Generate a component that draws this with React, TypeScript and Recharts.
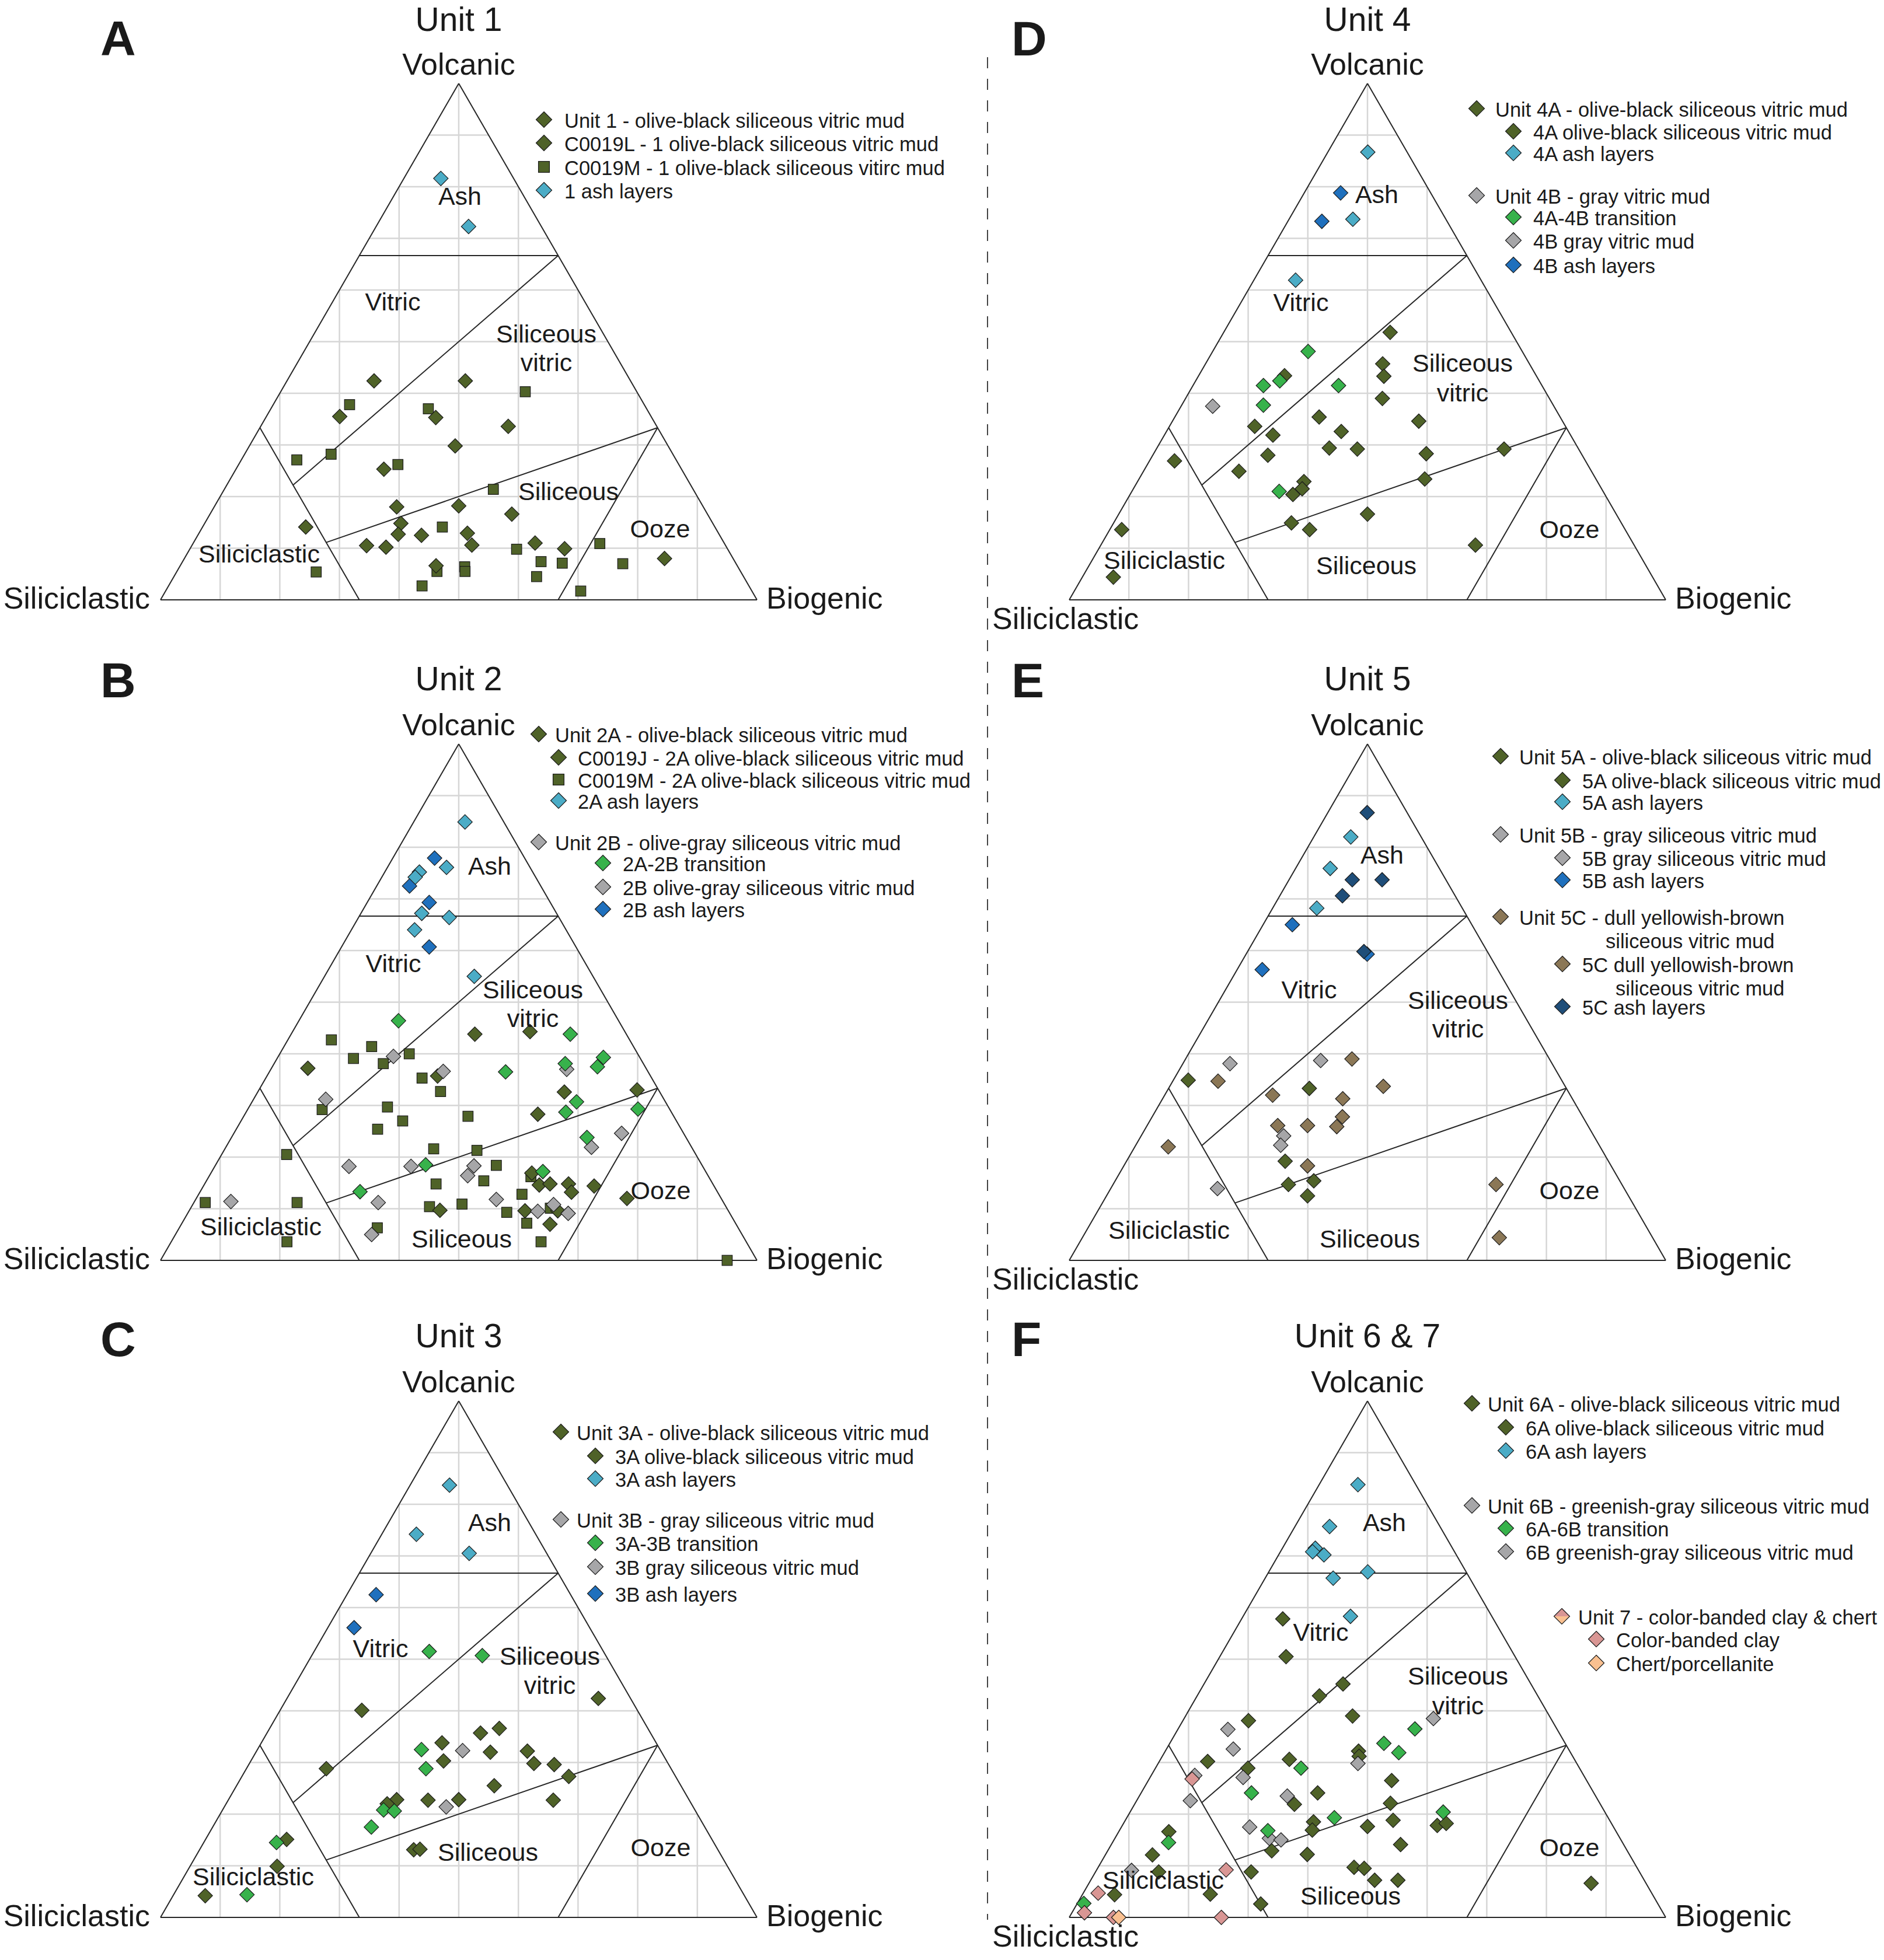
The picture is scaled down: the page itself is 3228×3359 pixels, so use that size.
import React from "react";
import { ScatterChart, Scatter, XAxis, YAxis, ReferenceLine } from "recharts";

// every sample is [volcanic %, biogenic %]; siliciclastic is the rest
type VB = [number, number];

const OLIVE = "#4f6228";
const ASH = "#4bacc6";
const BLUE = "#1f70bd";
const NAVY = "#1f4e79";
const GREEN = "#37b24b";
const GRAY = "#a6a6a8";
const BROWN = "#8b7756";
const PINK = "#d99694";
const ORANGE = "#fac090";

// ---- Unit 1
const unit1Diamonds: VB[] = [
  [42.4, 14.6], [42.4, 29.9], [35.5, 12.3], [35.3, 28.5], [33.6, 41.5], [29.8, 34.5], [25.3, 24.8],
  [18, 30.6], [18.2, 40.9], [16.6, 50.6], [14.8, 32.9], [14.1, 17.3], [12.7, 33.5], [12.5, 37.5],
  [12.9, 45], [10.6, 46.9], [10.5, 29.3], [10.2, 32.7], [11, 57.3], [9.9, 62.8], [6.6, 42.9], [8, 80.5],
];
const unit1Squares: VB[] = [
  [40.3, 41], [37.8, 12.8], [37, 26.4], [28.2, 14.5], [27.1, 9.3], [26.2, 26.7], [21.4, 45.1],
  [14.1, 40.2], [9.8, 54.8], [7.4, 60.1], [7.1, 63.8], [10.9, 68.2], [7, 74], [5.4, 23.4],
  [5.5, 43.6], [6.4, 47.8], [5.5, 48.3], [4.5, 60.8], [2.7, 42.5], [1.7, 69.6],
];
const unit1Ash: VB[] = [[81.6, 6.2], [72.3, 15.5]];

// ---- Unit 2
const unit2aAsh: VB[] = [
  [84.9, 8.6], [76.1, 9.9], [75.2, 5.8], [74.2, 5.6], [67.2, 10.2], [66.4, 15.2], [64, 10.6], [55, 25.1],
];
const unit2bAsh: VB[] = [[77.9, 7], [72.5, 5.5], [69.3, 10.4], [60.7, 14.7]];
const unit2Transition: VB[] = [
  [46.4, 16.7], [43.8, 46.8], [39.3, 54.6], [38.1, 48.8], [37.5, 54.5], [36.5, 39.6], [30.7, 54.4],
  [28.7, 53.6], [29.3, 65.4], [23.8, 59.6], [18.5, 35.2], [17.2, 55.5], [13.3, 26.8],
];
const unit2bGray: VB[] = [
  [39.5, 19.3], [36.6, 29.1], [37, 49.6], [31.2, 12.1], [24.6, 65], [21.9, 61.3], [18.2, 22.5],
  [18.2, 32.9], [18.3, 43.4], [16.4, 43.3], [11.4, 6.1], [11.2, 30.9], [11.8, 50.4], [9.5, 58.5],
  [10.8, 60.5], [9.1, 63.8], [5, 32.9],
];
const unit2aDiamonds: VB[] = [
  [43.8, 30.8], [44.3, 39.8], [37.2, 6.1], [35.7, 28.6], [32.6, 51.4], [33, 63.4], [28.3, 49.1],
  [16.9, 53.8], [14.6, 56.2], [14.8, 57.9], [14.8, 61], [13.2, 62.3], [14.4, 65.5], [12, 72.2],
  [9.7, 42], [9.6, 56.3], [9.6, 61.8], [7, 61.8],
];
const unit2aSquares: VB[] = [
  [42.7, 7.3], [41.4, 14.7], [39.1, 12.8], [38.1, 18.3], [40, 21.7], [35.3, 26.2], [32.7, 30.6],
  [29.2, 12.5], [29.7, 23.2], [27.9, 37.6], [27, 27.1], [25.4, 23.7], [21.6, 35], [21.3, 42.4],
  [20.5, 10.9], [18.4, 47.1], [15.4, 46.5], [14.8, 38.8], [16.2, 54], [12.8, 54.2], [11.2, 1.9],
  [11.2, 17.3], [10.4, 39.9], [10.9, 45.1], [9.3, 53.4], [10.1, 60.3], [7.2, 57.8], [6.3, 33.2],
  [3.6, 19.4], [3.6, 62], [0, 95],
];

// ---- Unit 3
const unit3aAsh: VB[] = [[83.7, 6.6], [74.2, 5.8], [70.5, 16.5]];
const unit3bAsh: VB[] = [[62.5, 4.9], [56.1, 4.4]];
const unit3Transition: VB[] = [
  [51.5, 19.3], [50.7, 28.6], [32.5, 27.5], [28.8, 30.1], [20.8, 27], [20.6, 28.9], [17.5, 26.6],
  [14.5, 12.2], [4.4, 12.3],
];
const unit3bGray: VB[] = [[32.3, 34.5], [21.4, 37.2]];
const unit3aOlive: VB[] = [
  [42.4, 52.2], [40.1, 13.7], [36.6, 38.5], [35.7, 35.8], [33.8, 30.3], [32, 39.3], [32.2, 45.4],
  [30.3, 32.3], [29.8, 47.7], [29.6, 51.2], [27.3, 54.8], [28.8, 13.4], [25.5, 43.2], [22.8, 28.2],
  [22, 27], [22.7, 33.5], [22.8, 38.6], [22.7, 54.5], [15.1, 13.6], [13.1, 35.9], [13.2, 36.9],
  [9.9, 14.6], [4.2, 5.4],
];

// ---- Unit 4
const unit4aAsh: VB[] = [[86.7, 6.7], [73.7, 10.7], [61.9, 7]];
const unit4bAsh: VB[] = [[78.8, 6.1], [73.3, 5.7]];
const unit4Transition: VB[] = [[48.1, 16], [42.4, 14.1], [41.5, 11.8], [41.5, 24.4], [37.7, 13.7], [21, 24.7]];
const unit4bGray: VB[] = [[37.5, 5.3]];
const unit4aOlive: VB[] = [
  [51.8, 27.9], [45.7, 29.7], [43.3, 31.1], [43.4, 14.4], [39, 33], [35.4, 24.2], [34.6, 41.3],
  [33.6, 14.3], [31.9, 18.2], [32.6, 29.3], [29.4, 28.9], [29.2, 33.7], [28.3, 45.7], [28, 19.3],
  [29.2, 58.3], [26.9, 4.2], [24.9, 16], [22.9, 27.9], [21.5, 28.3], [20.4, 27.3], [23.4, 47.9],
  [16.6, 41.7], [14.9, 29.8], [13.6, 33.5], [13.6, 2], [10.6, 62.8], [4.4, 5.2],
];

// ---- Unit 5
const unit5aAsh: VB[] = [[82, 6.2], [75.9, 5.8], [68.2, 7.4]];
const unit5bAsh: VB[] = [[65, 4.9], [56.3, 4.2], [59.3, 20.3]];
const unit5cAsh: VB[] = [[86.7, 6.6], [73.7, 10.6], [73.7, 15.6], [70.6, 10.5], [59.8, 19.5]];
const unit5aOlive: VB[] = [[34.9, 2.5], [33.3, 23.6], [19.2, 26.6], [14.7, 29.4], [15.4, 33.3], [12.5, 33.7]];
const unit5bGray: VB[] = [[38.1, 7.9], [38.7, 22.8], [24.1, 23.9], [22.3, 24.3], [13.9, 17.9]];
const unit5cBrown: VB[] = [
  [39, 27.9], [34.7, 7.6], [33.7, 35.8], [32, 18.1], [31.3, 30.2], [27.8, 31.9], [25.9, 31.9],
  [26.1, 21.9], [26.1, 26.9], [22, 5.6], [18.3, 30.8], [14.7, 64.2], [4.4, 69.9],
];

// ---- Unit 6 & 7
const unit6aAsh: VB[] = [
  [83.8, 6.5], [75.7, 5.8], [71.5, 5.5], [70.8, 5.4], [70.2, 7.6], [66.9, 16.6], [65.7, 11.4], [58.3, 18],
];
const unit6aOlive: VB[] = [
  [57.8, 6.9], [50.5, 11.1], [45.2, 23.3], [42.9, 20.5], [39, 28], [38.1, 11], [32.2, 32.4], [31.2, 33],
  [30.6, 21.6], [30.2, 8.1], [28.9, 15.5], [26.5, 40.8], [24.1, 29.6], [21.9, 26.8], [22.1, 42.8],
  [18.5, 31.7], [16.9, 32.3], [17.6, 41.2], [18.8, 44.9], [17.8, 52.8], [18.2, 54.1], [16.6, 8.4],
  [14.1, 48.5], [12.9, 27.5], [12.2, 33.8], [12.1, 7.9], [8.8, 10.6], [8.8, 26.1], [9.7, 42.9],
  [9.5, 44.7], [7.2, 47.6], [7.2, 51.5], [4.4, 5.4], [4.5, 21.4], [2.6, 30.8], [6.6, 84.2],
];
const unit6Transition: VB[] = [
  [36.5, 39.7], [33.7, 35.9], [31.9, 39.3], [28.9, 24.4], [24.1, 18.5], [19.3, 34.8], [20.4, 52.5],
  [16.8, 24.9], [14.5, 9.4], [2.7, 1.1],
];
const unit6bGray: VB[] = [
  [38.5, 41.8], [36.4, 8.4], [32.6, 11.2], [29.8, 33.5], [27.1, 15.6], [27.5, 7.3], [23.5, 24.8],
  [22.6, 9], [17.5, 21.5], [15.3, 25.9], [15, 28], [9.1, 5.9],
];
const unit7Clay: VB[] = [[26.8, 7.2], [9.2, 21.7], [4.7, 2.5], [0.9, 2.1], [0, 7.4], [0, 25.5]];
const unit7Chert: VB[] = [[0, 8.3]];

// ternary -> cartesian (x along base 0..100, y = volcanic 0..100)
const toXY = ([v, b]: VB) => ({ x: b + v / 2, y: v });

const TW = 1022;
const TH = 885;
const PAD = 30;
const FONT = "'Liberation Sans', Arial, sans-serif";
const INK = "#1a1a1a";

// grid inside the triangle, every 10 %
const GRID: { x: number; y: number }[][] = [];
for (let k = 10; k < 100; k += 10) {
  GRID.push([{ x: k, y: 0 }, { x: k, y: k <= 50 ? 2 * k : 2 * (100 - k) }]);
  GRID.push([{ x: k / 2, y: k }, { x: 100 - k / 2, y: k }]);
}

const T = 100 / 3;
const BOUNDS: VB[][] = [
  [[0, 0], [0, 100]],
  [[0, 100], [100, 0]],
  [[0, 0], [100, 0]],
  [[2 * T, 0], [2 * T, T]], // ash
  [[0, T], [T, 0]], // siliciclastic
  [[0, 2 * T], [T, 2 * T]], // ooze
  [[200 / 9, 100 / 9], [2 * T, T]], // vitric / siliceous vitric
  [[100 / 9, 200 / 9], [T, 2 * T]], // siliceous vitric / siliceous
];

type Shape = "diamond" | "square" | "split";
type Series = { data: VB[]; fill: string; shape: Shape };

function Mark({ cx, cy, fill, shape, size = 12 }: { cx: number; cy: number; fill: string; shape: Shape; size?: number }) {
  if (shape === "square") {
    const h = size * 0.7;
    return <rect x={cx - h} y={cy - h} width={2 * h} height={2 * h} fill={fill} stroke="#1a1a1a" strokeWidth={1.2} />;
  }
  const d = `M${cx},${cy - size}L${cx + size},${cy}L${cx},${cy + size}L${cx - size},${cy}Z`;
  if (shape === "split") {
    return (
      <g>
        <path d={`M${cx - size},${cy}L${cx},${cy - size}L${cx + size},${cy}Z`} fill={PINK} />
        <path d={`M${cx - size},${cy}L${cx},${cy + size}L${cx + size},${cy}Z`} fill={ORANGE} />
        <path d={d} fill="none" stroke="#1a1a1a" strokeWidth={1.2} />
      </g>
    );
  }
  return <path d={d} fill={fill} stroke="#1a1a1a" strokeWidth={1.2} />;
}

function Ternary({ left, base, series }: { left: number; base: number; series: Series[] }) {
  return (
    <div style={{ position: "absolute", left: left - PAD, top: base - TH - PAD }}>
      <ScatterChart width={TW + 2 * PAD} height={TH + 2 * PAD} margin={{ top: PAD, right: PAD, bottom: PAD, left: PAD }}>
        <XAxis type="number" dataKey="x" domain={[0, 100]} hide />
        <YAxis type="number" dataKey="y" domain={[0, 100]} hide />
        {GRID.map((s, i) => (
          <ReferenceLine key={"g" + i} segment={s} stroke="#d6d6d6" strokeWidth={2.5} ifOverflow="visible" />
        ))}
        {BOUNDS.map((s, i) => (
          <ReferenceLine key={"b" + i} segment={[toXY(s[0]), toXY(s[1])]} stroke="#262626" strokeWidth={2} ifOverflow="visible" />
        ))}
        {series.map((s, i) => (
          <Scatter
            key={i}
            data={s.data.map(toXY)}
            isAnimationActive={false}
            shape={(p: any) => <Mark cx={p.cx} cy={p.cy} fill={s.fill} shape={s.shape} size={12.5} />}
          />
        ))}
      </ScatterChart>
    </div>
  );
}

type LegendRow = { text: string; y: number; mx?: number; tx: number; fill?: string; shape?: Shape };
type PanelDef = {
  letter: string;
  title: string;
  left: number;
  base: number;
  letterX: number;
  letterY: number;
  rightSide: boolean;
  series: Series[];
  regions: [string, number, number][];
  legend: LegendRow[];
};

const panels: PanelDef[] = [
  {
    letter: "A", title: "Unit 1", left: 275, base: 1028, letterX: 172, letterY: 95, rightSide: false,
    series: [
      { data: unit1Squares, fill: OLIVE, shape: "square" },
      { data: unit1Diamonds, fill: OLIVE, shape: "diamond" },
      { data: unit1Ash, fill: ASH, shape: "diamond" },
    ],
    regions: [["Ash", 788, 336], ["Vitric", 673, 517], ["Siliceous", 936, 572], ["vitric", 936, 621],
      ["Siliceous", 974, 842], ["Ooze", 1131, 906], ["Siliciclastic", 444, 949]],
    legend: [
      { text: "Unit 1 - olive-black siliceous vitric mud", y: 207, mx: 932, tx: 967, fill: OLIVE, shape: "diamond" },
      { text: "C0019L - 1 olive-black siliceous vitric mud", y: 247, mx: 932, tx: 967, fill: OLIVE, shape: "diamond" },
      { text: "C0019M - 1 olive-black siliceous vitirc mud", y: 288, mx: 932, tx: 967, fill: OLIVE, shape: "square" },
      { text: "1 ash layers", y: 328, mx: 932, tx: 967, fill: ASH, shape: "diamond" },
    ],
  },
  {
    letter: "B", title: "Unit 2", left: 275, base: 2160, letterX: 172, letterY: 1195, rightSide: false,
    series: [
      { data: unit2aSquares, fill: OLIVE, shape: "square" },
      { data: unit2aDiamonds, fill: OLIVE, shape: "diamond" },
      { data: unit2bGray, fill: GRAY, shape: "diamond" },
      { data: unit2Transition, fill: GREEN, shape: "diamond" },
      { data: unit2aAsh, fill: ASH, shape: "diamond" },
      { data: unit2bAsh, fill: BLUE, shape: "diamond" },
    ],
    regions: [["Ash", 839, 1484], ["Vitric", 674, 1651], ["Siliceous", 913, 1696], ["vitric", 913, 1745],
      ["Siliceous", 791, 2123], ["Ooze", 1132, 2040], ["Siliciclastic", 447, 2102]],
    legend: [
      { text: "Unit 2A - olive-black siliceous vitric mud", y: 1260, mx: 923, tx: 951, fill: OLIVE, shape: "diamond" },
      { text: "C0019J - 2A olive-black siliceous vitric mud", y: 1300, mx: 957, tx: 990, fill: OLIVE, shape: "diamond" },
      { text: "C0019M - 2A olive-black siliceous vitric mud", y: 1338, mx: 957, tx: 990, fill: OLIVE, shape: "square" },
      { text: "2A ash layers", y: 1374, mx: 957, tx: 990, fill: ASH, shape: "diamond" },
      { text: "Unit 2B - olive-gray siliceous vitric mud", y: 1445, mx: 923, tx: 951, fill: GRAY, shape: "diamond" },
      { text: "2A-2B transition", y: 1481, mx: 1033, tx: 1067, fill: GREEN, shape: "diamond" },
      { text: "2B olive-gray siliceous vitric mud", y: 1522, mx: 1033, tx: 1067, fill: GRAY, shape: "diamond" },
      { text: "2B ash layers", y: 1560, mx: 1033, tx: 1067, fill: BLUE, shape: "diamond" },
    ],
  },
  {
    letter: "C", title: "Unit 3", left: 275, base: 3286, letterX: 172, letterY: 2324, rightSide: false,
    series: [
      { data: unit3aOlive, fill: OLIVE, shape: "diamond" },
      { data: unit3bGray, fill: GRAY, shape: "diamond" },
      { data: unit3Transition, fill: GREEN, shape: "diamond" },
      { data: unit3aAsh, fill: ASH, shape: "diamond" },
      { data: unit3bAsh, fill: BLUE, shape: "diamond" },
    ],
    regions: [["Ash", 839, 2609], ["Vitric", 652, 2825], ["Siliceous", 942, 2838], ["vitric", 942, 2888],
      ["Siliceous", 836, 3174], ["Ooze", 1132, 3166], ["Siliciclastic", 434, 3216]],
    legend: [
      { text: "Unit 3A - olive-black siliceous vitric mud", y: 2456, mx: 961, tx: 988, fill: OLIVE, shape: "diamond" },
      { text: "3A olive-black siliceous vitric mud", y: 2497, mx: 1020, tx: 1054, fill: OLIVE, shape: "diamond" },
      { text: "3A ash layers", y: 2536, mx: 1020, tx: 1054, fill: ASH, shape: "diamond" },
      { text: "Unit 3B - gray siliceous vitric mud", y: 2606, mx: 961, tx: 988, fill: GRAY, shape: "diamond" },
      { text: "3A-3B transition", y: 2646, mx: 1020, tx: 1054, fill: GREEN, shape: "diamond" },
      { text: "3B gray siliceous vitric mud", y: 2687, mx: 1020, tx: 1054, fill: GRAY, shape: "diamond" },
      { text: "3B ash layers", y: 2733, mx: 1020, tx: 1054, fill: BLUE, shape: "diamond" },
    ],
  },
  {
    letter: "D", title: "Unit 4", left: 1832, base: 1028, letterX: 1733, letterY: 95, rightSide: true,
    series: [
      { data: unit4aOlive, fill: OLIVE, shape: "diamond" },
      { data: unit4bGray, fill: GRAY, shape: "diamond" },
      { data: unit4Transition, fill: GREEN, shape: "diamond" },
      { data: unit4aAsh, fill: ASH, shape: "diamond" },
      { data: unit4bAsh, fill: BLUE, shape: "diamond" },
    ],
    regions: [["Ash", 2359, 333], ["Vitric", 2229, 518], ["Siliceous", 2506, 622], ["vitric", 2506, 673],
      ["Siliceous", 2341, 969], ["Ooze", 2689, 907], ["Siliciclastic", 1995, 960]],
    legend: [
      { text: "Unit 4A - olive-black siliceous vitric mud", y: 188, mx: 2530, tx: 2562, fill: OLIVE, shape: "diamond" },
      { text: "4A olive-black siliceous vitric mud", y: 227, mx: 2593, tx: 2627, fill: OLIVE, shape: "diamond" },
      { text: "4A ash layers", y: 264, mx: 2593, tx: 2627, fill: ASH, shape: "diamond" },
      { text: "Unit 4B - gray vitric mud", y: 337, mx: 2530, tx: 2562, fill: GRAY, shape: "diamond" },
      { text: "4A-4B transition", y: 374, mx: 2593, tx: 2627, fill: GREEN, shape: "diamond" },
      { text: "4B gray vitric mud", y: 414, mx: 2593, tx: 2627, fill: GRAY, shape: "diamond" },
      { text: "4B ash layers", y: 456, mx: 2593, tx: 2627, fill: BLUE, shape: "diamond" },
    ],
  },
  {
    letter: "E", title: "Unit 5", left: 1832, base: 2160, letterX: 1733, letterY: 1195, rightSide: true,
    series: [
      { data: unit5cBrown, fill: BROWN, shape: "diamond" },
      { data: unit5bGray, fill: GRAY, shape: "diamond" },
      { data: unit5aOlive, fill: OLIVE, shape: "diamond" },
      { data: unit5aAsh, fill: ASH, shape: "diamond" },
      { data: unit5bAsh, fill: BLUE, shape: "diamond" },
      { data: unit5cAsh, fill: NAVY, shape: "diamond" },
    ],
    regions: [["Ash", 2368, 1465], ["Vitric", 2243, 1696], ["Siliceous", 2498, 1714], ["vitric", 2498, 1763],
      ["Siliceous", 2347, 2123], ["Ooze", 2689, 2040], ["Siliciclastic", 2003, 2108]],
    legend: [
      { text: "Unit 5A - olive-black siliceous vitric mud", y: 1298, mx: 2571, tx: 2603, fill: OLIVE, shape: "diamond" },
      { text: "5A olive-black siliceous vitric mud", y: 1339, mx: 2677, tx: 2711, fill: OLIVE, shape: "diamond" },
      { text: "5A ash layers", y: 1376, mx: 2677, tx: 2711, fill: ASH, shape: "diamond" },
      { text: "Unit 5B - gray siliceous vitric mud", y: 1432, mx: 2571, tx: 2603, fill: GRAY, shape: "diamond" },
      { text: "5B gray siliceous vitric mud", y: 1472, mx: 2677, tx: 2711, fill: GRAY, shape: "diamond" },
      { text: "5B ash layers", y: 1510, mx: 2677, tx: 2711, fill: BLUE, shape: "diamond" },
      { text: "Unit 5C - dull yellowish-brown", y: 1573, mx: 2571, tx: 2603, fill: BROWN, shape: "diamond" },
      { text: "siliceous vitric mud", y: 1613, tx: 2751 },
      { text: "5C dull yellowish-brown", y: 1654, mx: 2677, tx: 2711, fill: BROWN, shape: "diamond" },
      { text: "siliceous vitric mud", y: 1694, tx: 2768 },
      { text: "5C ash layers", y: 1727, mx: 2677, tx: 2711, fill: NAVY, shape: "diamond" },
    ],
  },
  {
    letter: "F", title: "Unit 6 & 7", left: 1832, base: 3286, letterX: 1733, letterY: 2324, rightSide: true,
    series: [
      { data: unit6aOlive, fill: OLIVE, shape: "diamond" },
      { data: unit6bGray, fill: GRAY, shape: "diamond" },
      { data: unit6Transition, fill: GREEN, shape: "diamond" },
      { data: unit6aAsh, fill: ASH, shape: "diamond" },
      { data: unit7Clay, fill: PINK, shape: "diamond" },
      { data: unit7Chert, fill: ORANGE, shape: "diamond" },
    ],
    regions: [["Ash", 2372, 2609], ["Vitric", 2263, 2797], ["Siliceous", 2498, 2872], ["vitric", 2498, 2923],
      ["Siliceous", 2314, 3249], ["Ooze", 2689, 3166], ["Siliciclastic", 1993, 3222]],
    legend: [
      { text: "Unit 6A - olive-black siliceous vitric mud", y: 2407, mx: 2522, tx: 2549, fill: OLIVE, shape: "diamond" },
      { text: "6A olive-black siliceous vitric mud", y: 2448, mx: 2580, tx: 2614, fill: OLIVE, shape: "diamond" },
      { text: "6A ash layers", y: 2488, mx: 2580, tx: 2614, fill: ASH, shape: "diamond" },
      { text: "Unit 6B - greenish-gray siliceous vitric mud", y: 2582, mx: 2522, tx: 2549, fill: GRAY, shape: "diamond" },
      { text: "6A-6B transition", y: 2621, mx: 2580, tx: 2614, fill: GREEN, shape: "diamond" },
      { text: "6B greenish-gray siliceous vitric mud", y: 2661, mx: 2580, tx: 2614, fill: GRAY, shape: "diamond" },
      { text: "Unit 7 - color-banded clay & chert", y: 2772, mx: 2676, tx: 2704, fill: PINK, shape: "split" },
      { text: "Color-banded clay", y: 2811, mx: 2735, tx: 2769, fill: PINK, shape: "diamond" },
      { text: "Chert/porcellanite", y: 2852, mx: 2735, tx: 2769, fill: ORANGE, shape: "diamond" },
    ],
  },
];

const mid = (fs: number) => fs * 0.35;

function Labels({ p }: { p: PanelDef }) {
  const apexX = p.left + TW / 2;
  const apexY = p.base - TH;
  const fsVertex = 52;
  return (
    <g fontFamily={FONT} fill={INK}>
      <text x={p.letterX} y={p.letterY} fontSize={84} fontWeight="bold">{p.letter}</text>
      <text x={apexX} y={Math.max(apexY - 92, 53)} fontSize={57} textAnchor="middle">{p.title}</text>
      <text x={apexX} y={apexY - 15} fontSize={fsVertex} textAnchor="middle">Volcanic</text>
      {p.rightSide ? (
        <text x={1700} y={p.base + 50} fontSize={fsVertex}>Siliciclastic</text>
      ) : (
        <text x={p.left - 18} y={p.base + 15} fontSize={fsVertex} textAnchor="end">Siliciclastic</text>
      )}
      <text x={p.left + TW + 16} y={p.base + 15} fontSize={fsVertex}>Biogenic</text>
      {p.regions.map(([t, x, y], i) => (
        <text key={i} x={x} y={y + mid(43)} fontSize={43} textAnchor="middle">{t}</text>
      ))}
      {p.legend.map((r, i) => (
        <g key={"l" + i}>
          {r.mx !== undefined && r.fill && r.shape && (
            <Mark cx={r.mx} cy={r.y - 2} fill={r.fill} shape={r.shape} size={13.5} />
          )}
          <text x={r.tx} y={r.y + mid(34.5)} fontSize={34.5}>{r.text}</text>
        </g>
      ))}
    </g>
  );
}

export default function App() {
  return (
    <div style={{ position: "absolute", left: 0, top: 0, width: 3228, height: 3359, background: "#fff", overflow: "hidden" }}>
      {panels.map((p) => (
        <Ternary key={p.letter} left={p.left} base={p.base} series={p.series} />
      ))}
      <svg width={3228} height={3359} style={{ position: "absolute", left: 0, top: 0, pointerEvents: "none" }}>
        <line x1={1692} y1={98} x2={1692} y2={3290} stroke="#444" strokeWidth={2} strokeDasharray="19 18" />
        {panels.map((p) => (
          <Labels key={p.letter} p={p} />
        ))}
      </svg>
    </div>
  );
}
